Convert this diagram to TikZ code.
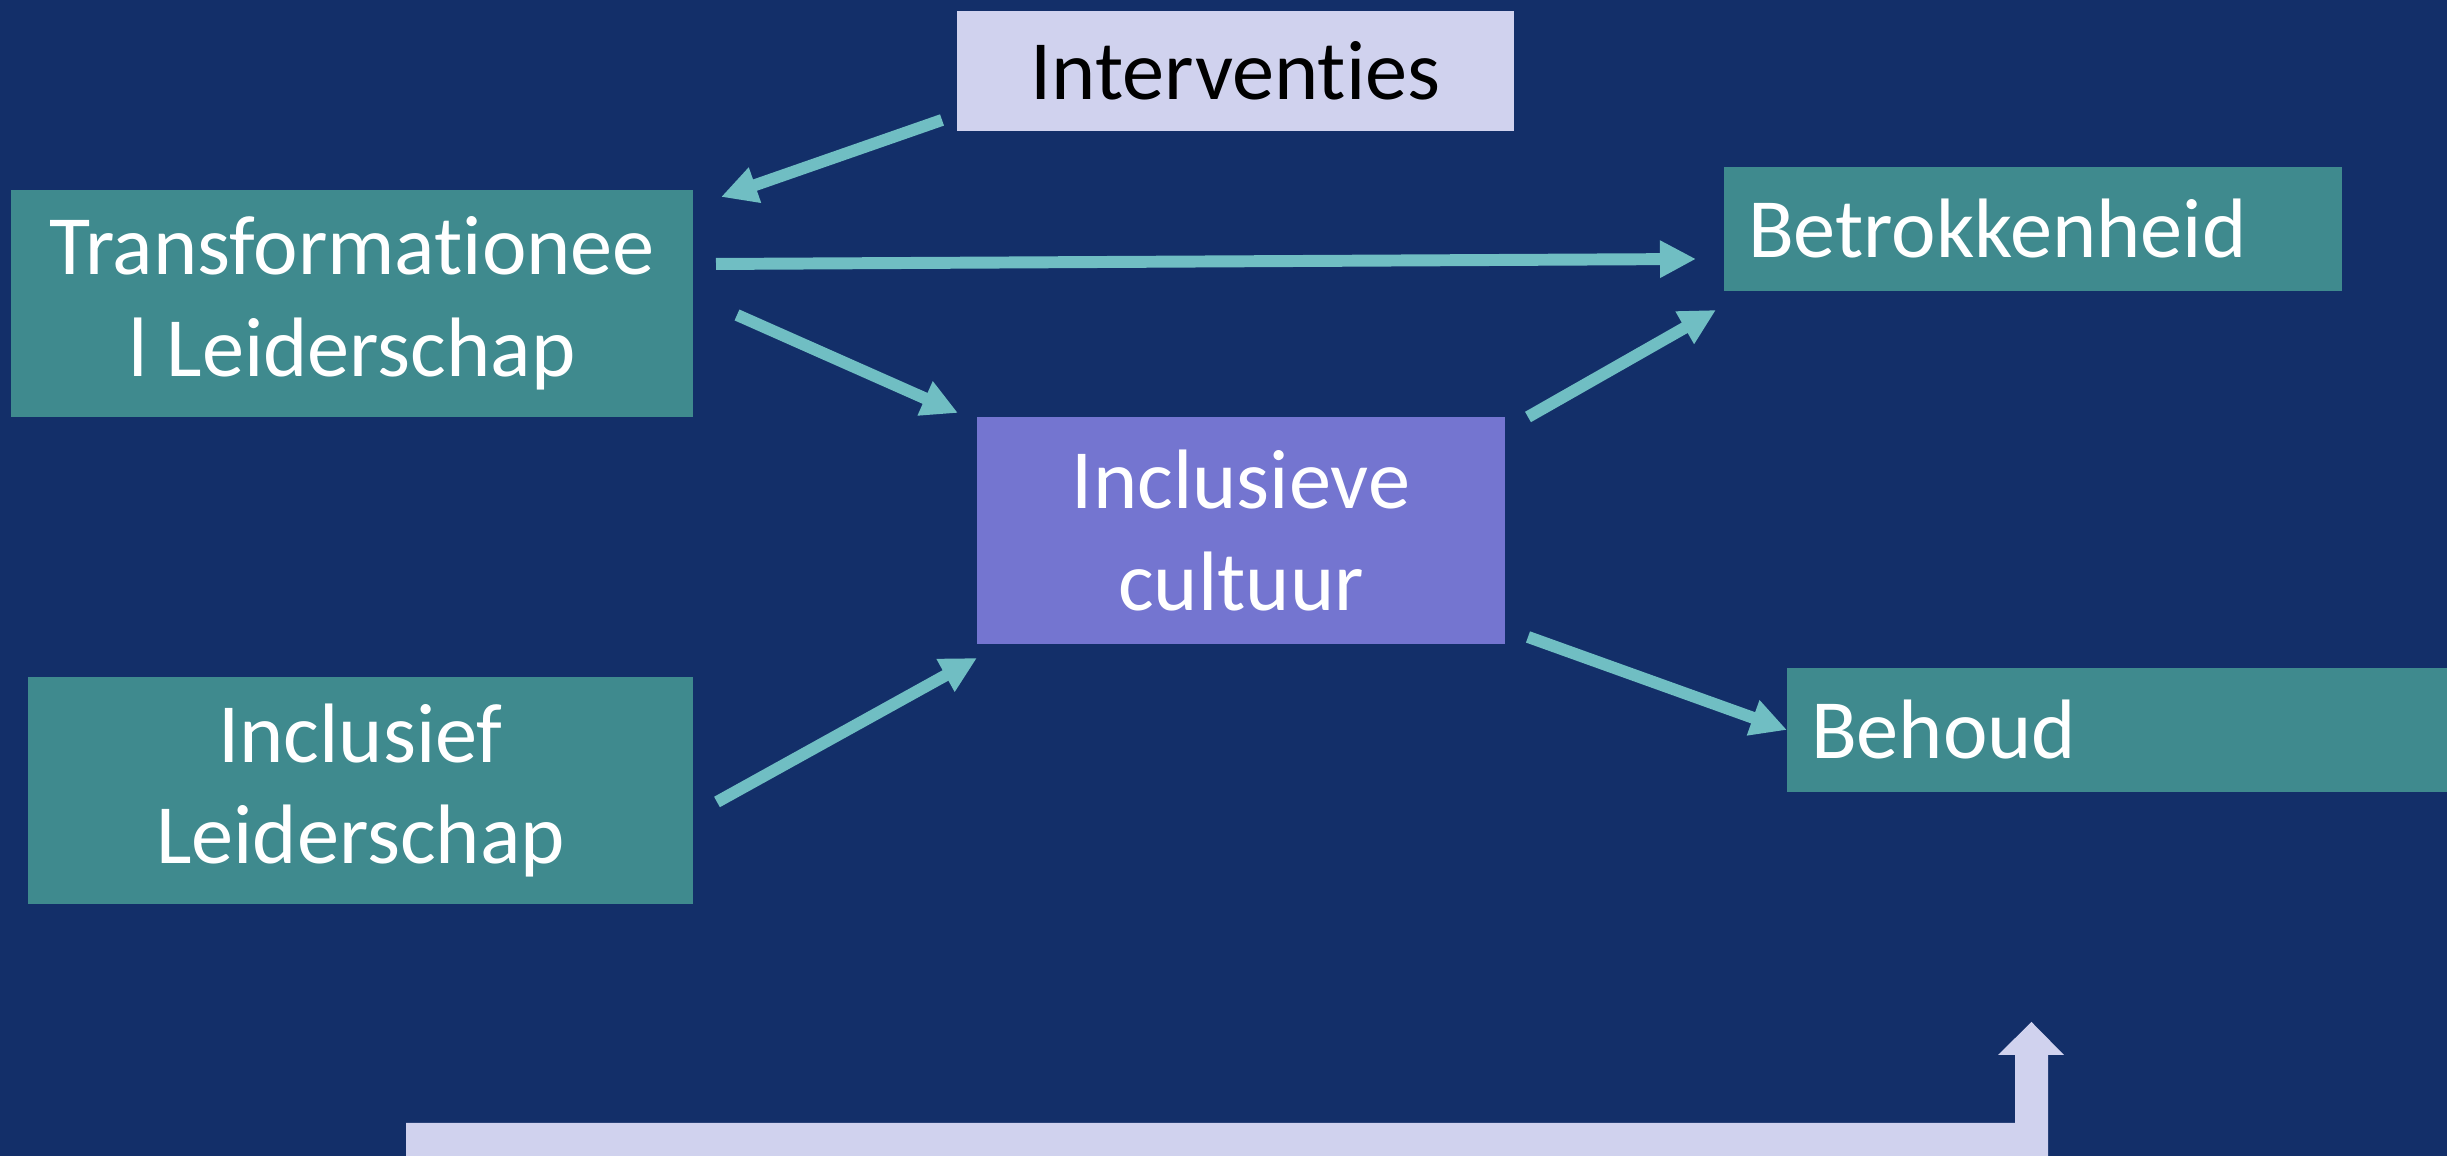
\documentclass[tikz,border=0pt]{standalone}
\usepackage{fontspec}
\setmainfont{Carlito}[Ligatures=NoCommon]
\usepackage{tikz}
\usetikzlibrary{arrows.meta,calc}
\usepackage{xcolor}
\definecolor{bgc}{HTML}{132F69}
\definecolor{tealc}{HTML}{3F8A8E}
\definecolor{purplec}{HTML}{7475D0}
\definecolor{lavc}{HTML}{D0D2EE}
\definecolor{linkc}{HTML}{70BEC3}

\begin{document}
\begin{tikzpicture}[
    box/.style={fill=tealc, text=white, inner sep=0pt, outer sep=0pt, align=center,
      font=\fontsize{24pt}{29pt}\selectfont},
    lbox/.style={box, align=left, inner xsep=0.24cm},
    link/.style={draw=linkc, line width=3.4pt, -{Triangle[length=0.36cm,width=0.35cm]}}]
  \useasboundingbox (0,0) rectangle (24.47,11.56);
  \fill[bgc] (0,0) rectangle (24.47,11.56);

  % boxes
  \node[box, fill=lavc, text=black, minimum width=5.57cm, minimum height=1.20cm] (inter)
    at (12.355,10.85) {Interventies};
  \node[box, minimum width=6.82cm, minimum height=2.27cm] (trans)
    at (3.52,8.525) {Transformationee\\l Leiderschap};
  \node[box, minimum width=6.65cm, minimum height=2.27cm] (incl)
    at (3.605,3.655) {Inclusief\\Leiderschap};
  \node[box, fill=purplec, minimum width=5.28cm, minimum height=2.27cm] (cult)
    at (12.41,6.255) {Inclusieve\\cultuur};
  \node[lbox, text width=5.70cm, minimum height=1.24cm] (betr)
    at (20.33,9.27) {Betrokkenheid};
  \node[lbox, text width=6.32cm, minimum height=1.24cm] (behoud)
    at (21.27,4.26) {Behoud};

  % arrows
  \draw[link] ($(inter.south west)+(-0.15,0.11)$) -- ($(trans.north east)+(0.28,-0.07)$);
  \draw[link] ($(trans.east)+(0.23,0.395)$) -- ($(betr.west)+(-0.28,-0.30)$);
  \draw[link] ($(trans.east)+(0.44,-0.115)$) -- ($(cult.north west)+(-0.19,0.04)$);
  \draw[link] ($(incl.east)+(0.24,-0.115)$) -- ($(cult.south west)+(0,-0.14)$);
  \draw[link] ($(cult.north east)+(0.23,0)$) -- ($(betr.south west)+(-0.08,-0.19)$);
  \draw[link] ($(cult.south east)+(0.23,0.07)$) -- (behoud.west);

  % bent arrow along the bottom
  \fill[lavc] (4.06,-0.1) -- (4.06,0.33) -- (20.15,0.33) -- (20.15,1.01) -- (19.98,1.01)
    -- (20.315,1.34) -- (20.64,1.01) -- (20.48,1.01) -- (20.48,-0.1) -- cycle;
\end{tikzpicture}
\end{document}
